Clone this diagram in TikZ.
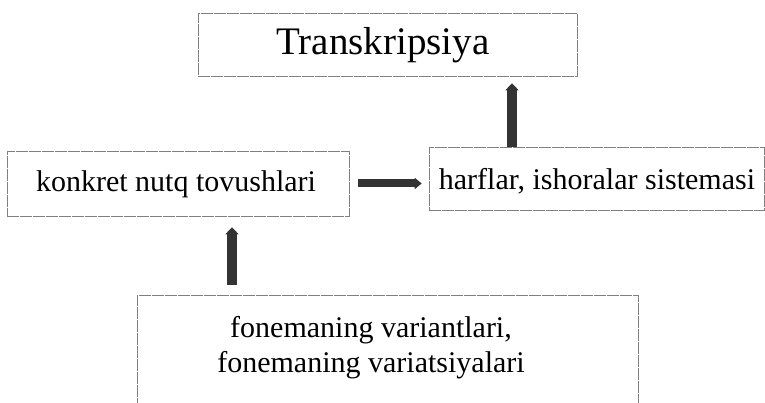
\documentclass[tikz,border=0pt]{standalone}
\usepackage{fontspec}
\setmainfont{Liberation Serif}
\usetikzlibrary{arrows.meta}
\begin{document}
\begin{tikzpicture}[x=1pt,y=-1pt,
  boxst/.style={draw=black!50, line width=0.6pt, dash pattern=on 12pt off 1pt, inner sep=0pt, anchor=center},
  bigarrow/.style={line width=10pt, -{Triangle[width=13pt,length=7pt]}, color=black!80}
]
\useasboundingbox (0,0) rectangle (765,403);
\fill[white] (0,0) rectangle (765,403);
\node[boxst, minimum width=379pt, minimum height=63pt] (trans) at (387.5,44.5) {};
\node[font=\fontsize{39}{44}\selectfont] (transt) at (383,45) {Transkripsiya};
\node[boxst, minimum width=342pt, minimum height=65pt] (konk) at (178,183.5) {};
\node[font=\fontsize{30}{34}\selectfont] (konkt) at (176,184) {konkret nutq tovushlari};
\node[boxst, minimum width=335pt, minimum height=63pt] (harf) at (596.5,178.5) {};
\node[font=\fontsize{30}{34}\selectfont] (harft) at (597,181) {harflar, ishoralar sistemasi};
\node[boxst, minimum width=501pt, minimum height=130pt] (fone) at (387.5,360) {};
\node[font=\fontsize{30}{35}\selectfont, align=center] (fonet) at (371,348) {fonemaning variantlari,\\fonemaning variatsiyalari};
\coordinate (a1) at (512,0);
\coordinate (a2) at (232,0);
\draw[bigarrow, shorten >=7pt] (harf.north -| a1) -- (trans.south -| a1);
\draw[bigarrow, line width=8pt, -{Triangle[width=11pt,length=7pt]}, shorten <=9pt, shorten >=7pt] (konk.east) -- (konk.east -| harf.west);
\draw[bigarrow, shorten <=10pt, shorten >=11pt] (fone.north -| a2) -- (konk.south -| a2);
\end{tikzpicture}
\end{document}
